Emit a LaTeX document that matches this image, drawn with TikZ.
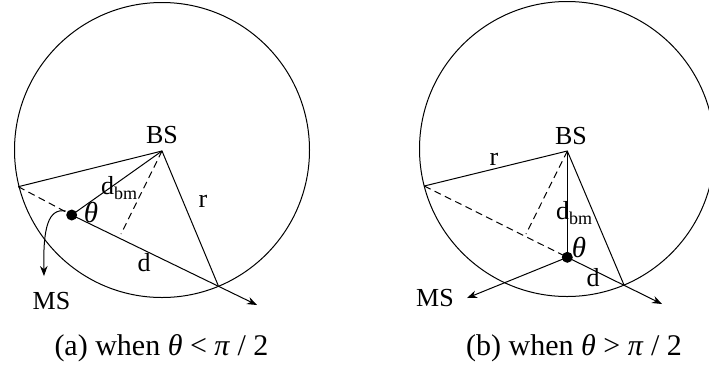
\documentclass[tikz,border=0pt]{standalone}
\usepackage{fontspec}
\setmainfont{Liberation Serif}
\usetikzlibrary{arrows.meta}
\tikzset{
  ln/.style={line width=1pt},
  thinln/.style={line width=0.6pt},
  dsh/.style={line width=1pt, dash pattern=on 7pt off 4.5pt},
  arr/.style={line width=1pt, -{Stealth[length=10pt,width=7.5pt]}},
  lbl/.style={inner sep=0pt, font=\fontsize{26}{28}\selectfont},
  thlbl/.style={inner sep=0pt, font=\fontsize{29}{31}\selectfont\itshape},
  captxt/.style={inner sep=0pt, font=\fontsize{30}{34}\selectfont},
  dotst/.style={circle, fill=black, minimum size=11pt, inner sep=0pt},
}
\newcommand{\dbm}{d\raisebox{-0.2em}{\fontsize{18}{18}\selectfont bm}}
\begin{document}
\begin{tikzpicture}[x=1pt,y=-1pt]
\useasboundingbox (0,0) rectangle (709,368);
% ---------- (a) ----------
\draw[ln] (162,150) circle (147.5);
\coordinate (bsA) at (162,151);
\coordinate (lA) at (18.3,186.7);
\coordinate (pA) at (218.3,285.7);
\coordinate (msA) at (71.7,215);
\coordinate (fA) at (121,234);
\coordinate (tipA) at (257,305);
\coordinate (mstipA) at (44,276);
\draw[ln] (lA) -- (bsA) -- (pA);
\draw[ln] (bsA) -- (msA);
\draw[dsh] (lA) -- (msA);
\draw[dsh] (bsA) -- (fA);
\draw[arr] (msA) -- (tipA);
\draw[arr] (msA) ++(-6,-4) .. controls (48,208) and (43,228) .. (mstipA);
\node[dotst] (dotA) at (msA) {};
\node[lbl] (BSa) at (162,135) {BS};
\node[lbl] (dbmA) at (119,188) {\dbm};
\node[thlbl] (thA) at (91,212) {θ};
\node[lbl] (rA) at (203,201) {r};
\node[lbl] (dA) at (144,263) {d};
\node[lbl] (MSa) at (51.5,301) {MS};
\node[captxt] (capA) at (161.5,348) {(a) when \textit{θ} < \textit{π} / 2};
% ---------- (b) ----------
\draw[ln] (567,149) circle (147.5);
\coordinate (bsB) at (567.3,151);
\coordinate (lB) at (424.3,186);
\coordinate (pB) at (624.3,285.7);
\coordinate (msB) at (567.3,257.3);
\coordinate (fB) at (526,234);
\coordinate (tipB) at (662,304);
\coordinate (mstipB) at (467,298);
\draw[ln] (lB) -- (bsB) -- (pB);
\draw[thinln] (bsB) -- (msB);
\draw[dsh] (lB) -- (msB);
\draw[dsh] (bsB) -- (fB);
\draw[arr] (msB) -- (tipB);
\draw[arr] (msB) -- (mstipB);
\node[dotst] (dotB) at (msB) {};
\node[lbl] (BSb) at (571,136) {BS};
\node[lbl] (rB) at (494,159) {r};
\node[lbl] (dbmB) at (574,213) {\dbm};
\node[thlbl] (thB) at (579,247) {θ};
\node[lbl] (dB) at (593,278) {d};
\node[lbl] (MSb) at (435,298) {MS};
\node[captxt] (capB) at (574,348) {(b) when \textit{θ} > \textit{π} / 2};
\end{tikzpicture}
\end{document}
